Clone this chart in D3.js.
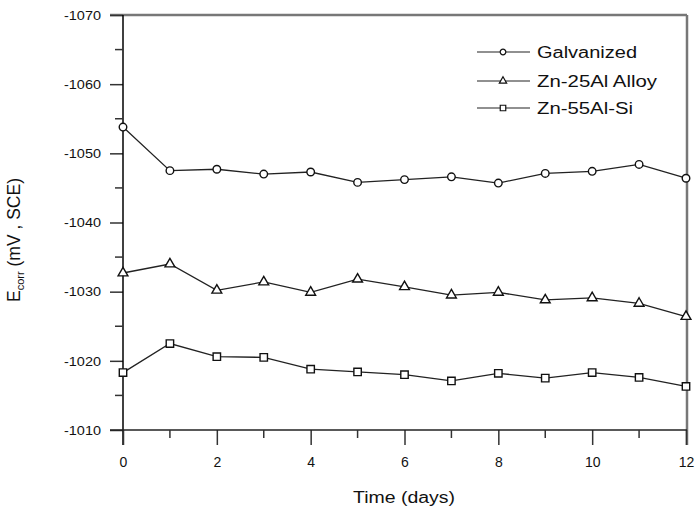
<!DOCTYPE html>
<html><head><meta charset="utf-8">
<script src="https://cdn.jsdelivr.net/npm/d3@7"></script>
<style>body{margin:0;background:#fff}text{font-family:Arial,"Liberation Sans",sans-serif}</style>
</head><body>
<svg id="c" width="698" height="512"></svg>
<script>
const days = [0,1,2,3,4,5,6,7,8,9,10,11,12];
const galvanized = [-1053.8,-1047.5,-1047.7,-1047.0,-1047.3,-1045.8,-1046.2,-1046.6,-1045.7,-1047.1,-1047.4,-1048.4,-1046.4];
const zn25Al = [-1032.7,-1034.0,-1030.2,-1031.4,-1029.9,-1031.8,-1030.7,-1029.5,-1029.9,-1028.8,-1029.1,-1028.3,-1026.4];
const zn55AlSi = [-1018.3,-1022.5,-1020.6,-1020.5,-1018.8,-1018.4,-1018.0,-1017.1,-1018.2,-1017.5,-1018.3,-1017.6,-1016.3];
const seriesNames = ["Galvanized","Zn-25Al Alloy","Zn-55Al-Si"];
const markers = ["circle","triangle","square"];
const yTicks = [-1070,-1060,-1050,-1040,-1030,-1020,-1010];
const xTicks = [0,2,4,6,8,10,12];

const svg = d3.select("#c");
const L=123, R=686, T=15, B=430;
const x = d3.scaleLinear().domain([0,12]).range([L,R]);
const y = d3.scaleLinear().domain([-1070,-1010]).range([T,B]);
const fmt = d => String(d);

// frame top & right (gray)
svg.append("line").attr("x1",110).attr("x2",R+1).attr("y1",T).attr("y2",T).attr("stroke","#777").attr("stroke-width",2.5);
svg.append("line").attr("x1",R+1).attr("x2",R+1).attr("y1",T).attr("y2",B+15).attr("stroke","#777").attr("stroke-width",2.5);

// y axis
const ya = svg.append("g").attr("transform",`translate(${L},0)`)
  .call(d3.axisLeft(y).tickValues(yTicks).tickSize(13).tickPadding(9).tickFormat(fmt));
ya.select(".domain").remove();
ya.append("line").attr("x1",0).attr("x2",0).attr("y1",T).attr("y2",B+15).attr("stroke","#000").attr("stroke-width",1.5);
ya.selectAll(".tick line").attr("stroke","#333").attr("stroke-width",1.5);
ya.selectAll("text").attr("font-size",13).attr("fill","#111").attr("textLength",37).attr("lengthAdjust","spacingAndGlyphs");
const yMinor = d3.range(-1065,-1010,10);
svg.selectAll(".ymin").data(yMinor).enter().append("line")
  .attr("x1",L-8).attr("x2",L).attr("y1",d=>y(d)).attr("y2",d=>y(d)).attr("stroke","#333").attr("stroke-width",1.5);

// x axis
const xa = svg.append("g").attr("transform",`translate(0,${B})`)
  .call(d3.axisBottom(x).tickValues(xTicks).tickSize(15).tickPadding(12).tickFormat(fmt));
xa.select(".domain").remove();
xa.append("line").attr("x1",110).attr("x2",R+1).attr("y1",0).attr("y2",0).attr("stroke","#222").attr("stroke-width",1.5);
xa.selectAll(".tick line").attr("stroke","#333").attr("stroke-width",1.5);
xa.selectAll("text").attr("font-size",14).attr("fill","#111");
const xMinor = d3.range(1,12,2);
svg.selectAll(".xmin").data(xMinor).enter().append("line")
  .attr("x1",d=>x(d)).attr("x2",d=>x(d)).attr("y1",B).attr("y2",B+8).attr("stroke","#333").attr("stroke-width",1.5);

// labels
svg.append("text").attr("x",404).attr("y",503).attr("text-anchor","middle").attr("font-size",16).attr("fill","#111")
  .attr("textLength",102).attr("lengthAdjust","spacingAndGlyphs").text("Time (days)");
const yl = svg.append("text").attr("transform","translate(20,240) rotate(-90)").attr("text-anchor","middle").attr("font-size",17.5).attr("fill","#111");
yl.append("tspan").text("E");
yl.append("tspan").attr("font-size",11).attr("dy",4).text("corr");
yl.append("tspan").attr("dy",-4).text(" (mV , SCE)");

// series
const allSeries = [galvanized, zn25Al, zn55AlSi];
const line = d3.line().x((d,i)=>x(days[i])).y(d=>y(d));
const sym = {circle:d3.symbolCircle, triangle:d3.symbolTriangle, square:d3.symbolSquare};
const size = {circle:45, triangle:42, square:55};
allSeries.forEach((vals,k)=>{
  svg.append("path").datum(vals).attr("d",line).attr("fill","none").attr("stroke","#222").attr("stroke-width",1.3);
  svg.selectAll(".m"+k).data(vals).enter().append("path")
    .attr("transform",(d,i)=>`translate(${x(days[i])},${y(d)})`)
    .attr("d",d3.symbol().type(sym[markers[k]]).size(size[markers[k]]))
    .attr("fill","#fff").attr("stroke","#111").attr("stroke-width",1.4);
});

// legend
const ly = [52,81,108];
const lw = [100,120,96];
seriesNames.forEach((n,k)=>{
  svg.append("line").attr("x1",477).attr("x2",530).attr("y1",ly[k]).attr("y2",ly[k]).attr("stroke","#222").attr("stroke-width",1.2);
  svg.append("path").attr("transform",`translate(503,${ly[k]})`)
    .attr("d",d3.symbol().type(sym[markers[k]]).size(size[markers[k]]*0.55))
    .attr("fill","#fff").attr("stroke","#111").attr("stroke-width",1.2);
  svg.append("text").attr("x",537).attr("y",ly[k]+6).attr("font-size",16).attr("fill","#111")
    .attr("textLength",lw[k]).attr("lengthAdjust","spacingAndGlyphs").text(n);
});
</script>
</body></html>
